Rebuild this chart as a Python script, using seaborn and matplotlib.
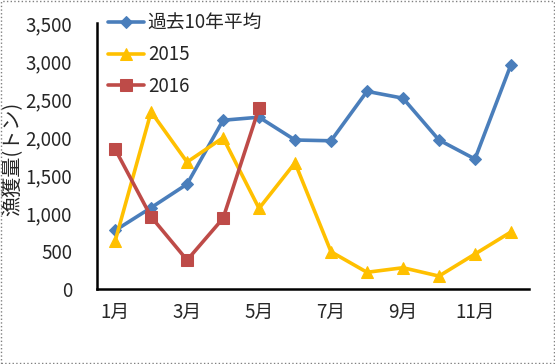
import numpy as np
import pandas as pd
import matplotlib.pyplot as plt
import seaborn as sns
from matplotlib.patches import Rectangle

# Data
months = ["1月", "2月", "3月", "4月", "5月", "6月", "7月", "8月", "9月", "10月", "11月", "12月"]
avg10 = [770, 1070, 1380, 2220, 2260, 1960, 1950, 2600, 2510, 1960, 1710, 2950]
y2015 = [630, 2330, 1670, 1990, 1060, 1660, 490, 220, 280, 170, 460, 750]
y2016 = [1840, 950, 380, 930, 2380]

series_names = ["過去10年平均", "2015", "2016"]
colors = ["#4A7EBB", "#FFC000", "#BE4B48"]
markers = ["D", "^", "s"]

sns.set_style("white")
plt.rcParams['font.family'] = ['Noto Sans CJK JP', 'DejaVu Sans']

rows = []
for name, vals in zip(series_names, [avg10, y2015, y2016]):
    for i, v in enumerate(vals):
        rows.append({"series": name, "month": i, "value": v})
df = pd.DataFrame(rows)

fig = plt.figure(figsize=(5.55, 3.64), dpi=100)
ax = fig.add_axes([0.175, 0.206, 0.778, 0.731])

for name, c, m in zip(series_names, colors, markers):
    sub = df[df["series"] == name]
    ms = {"D": 6, "^": 8, "s": 8}[m]
    sns.lineplot(data=sub, x="month", y="value", ax=ax, color=c, marker=m,
                 markersize=ms, markeredgecolor=c, linewidth=2.6, label=name)

ax.set_xlim(-0.5, 11.5)
ax.set_ylim(0, 3500)
ax.set_yticks(np.arange(0, 3501, 500))
ax.set_yticklabels([f"{v:,}" for v in range(0, 3501, 500)], fontsize=13.5)

# tick marks between categories, labels on every other month
ax.set_xticks(np.arange(-0.5, 12, 1))
ax.set_xticklabels([])
ax.set_xticks(np.arange(0, 12, 2), minor=True)
ax.set_xticklabels(months[::2], minor=True, fontsize=13.5)
ax.tick_params(axis="x", which="major", direction="out", length=5, width=1.5, color="black")
ax.tick_params(axis="x", which="minor", length=0, pad=9)
ax.tick_params(axis="y", direction="out", length=5, width=1.5, color="black", pad=13)

ax.set_xlabel("")
ax.set_ylabel("漁獲量(トン)", fontsize=14.5)
ax.yaxis.set_label_coords(-0.172, 0.49)

for s in ["top", "right"]:
    ax.spines[s].set_visible(False)
for s in ["left", "bottom"]:
    ax.spines[s].set_color("black")
    ax.spines[s].set_linewidth(1.8)

leg = ax.legend(loc="upper left", bbox_to_anchor=(0.0, 1.08), frameon=False,
                fontsize=13.5, handlelength=1.9, labelspacing=0.55, handletextpad=0.2,
                borderaxespad=0.2)

fig.patches.append(Rectangle((0.002, 0.003), 0.996, 0.994, transform=fig.transFigure,
                             fill=False, edgecolor="#808080", linewidth=1, linestyle=":"))

fig.savefig("out.png", dpi=100)
